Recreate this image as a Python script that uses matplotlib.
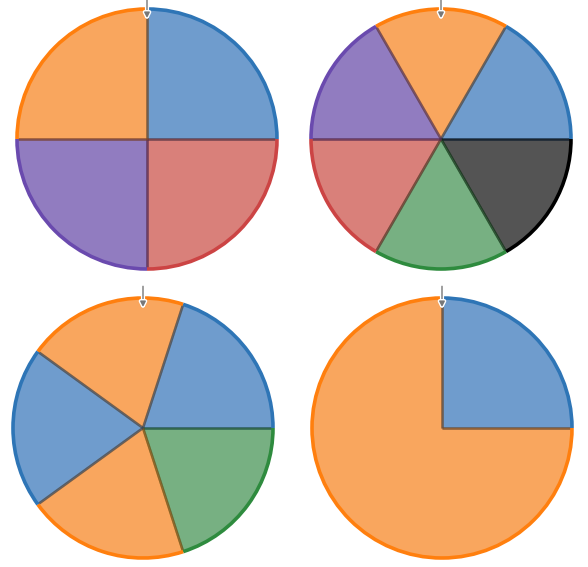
import matplotlib
matplotlib.use('Agg')
import numpy as np
import matplotlib.pyplot as plt
import matplotlib.patheffects as pe
from matplotlib.patches import Arc
from matplotlib.colors import to_rgb

# slice sizes and colour keys, clockwise from the start angle
sizes_a = [1, 1, 1, 1]
colors_a = ['blue', 'red', 'purple', 'orange']

sizes_b = [1, 1, 1, 1, 1, 1]
colors_b = ['orange', 'blue', 'black', 'green', 'red', 'purple']

sizes_c = [1, 1, 1, 1, 1]
colors_c = ['orange', 'blue', 'green', 'orange', 'blue']

sizes_d = [1, 1, 2]
colors_d = ['blue', 'orange', 'orange']

# start angle of first slice, degrees clockwise from 12 o'clock
offsets = [0, -30, -54, 0]

FILL = {'blue': '#6f9ccd', 'orange': '#f9a65e', 'purple': '#917cc0',
        'red': '#d9807a', 'green': '#77b082', 'black': '#545454'}
EDGE = {'blue': '#2e75b6', 'orange': '#ff7f0e', 'purple': '#6a4aae',
        'red': '#cc4444', 'green': '#2e8b3e', 'black': '#000000'}

W, H = 588, 567
R = 130.0
centers = [(147, 139), (441, 139), (143, 428), (442, 428)]

fig = plt.figure(figsize=(W / 100, H / 100), dpi=100)

charts = [(sizes_a, colors_a), (sizes_b, colors_b), (sizes_c, colors_c), (sizes_d, colors_d)]
half = 145.0
for (sizes, colors), (cx, cy), off in zip(charts, centers, offsets):
    ax = fig.add_axes([(cx - half) / W, (H - cy - half) / H, 2 * half / W, 2 * half / H])
    wedges, _ = ax.pie(sizes, startangle=90 - off, counterclock=False, radius=1.0,
                       colors=[FILL[c] for c in colors], wedgeprops=dict(linewidth=0))
    n = len(wedges)
    for i, (w, c) in enumerate(zip(wedges, colors)):
        # outer rim in the full colour
        ax.add_patch(Arc((0, 0), 2, 2, theta1=w.theta1, theta2=w.theta2,
                         color=EDGE[c], lw=2.6, zorder=4))
        # darker radii on both sides unless the neighbour has the same colour
        dark = tuple(0.6 * v for v in to_rgb(EDGE[c]))
        for th, nb in ((w.theta1, colors[(i + 1) % n]), (w.theta2, colors[(i - 1) % n])):
            if nb == c:
                continue
            t = np.deg2rad(th)
            ax.plot([0, np.cos(t)], [0, np.sin(t)], color=dark, alpha=0.5,
                    lw=1.8, solid_capstyle='butt', zorder=3)
    ax.set_xlim(-half / R, half / R)
    ax.set_ylim(-half / R, half / R)
    ax.set_aspect('equal')
    ax.axis('off')
    # pointer at 12 o'clock
    ax.annotate('', xy=(0, 0.93), xytext=(0, 1.09),
                arrowprops=dict(arrowstyle='-|>', color='#777777', lw=1.0,
                                mutation_scale=8, shrinkA=0, shrinkB=0,
                                path_effects=[pe.withStroke(linewidth=3, foreground='white')]),
                zorder=6)

fig.savefig('out.png', dpi=100)
